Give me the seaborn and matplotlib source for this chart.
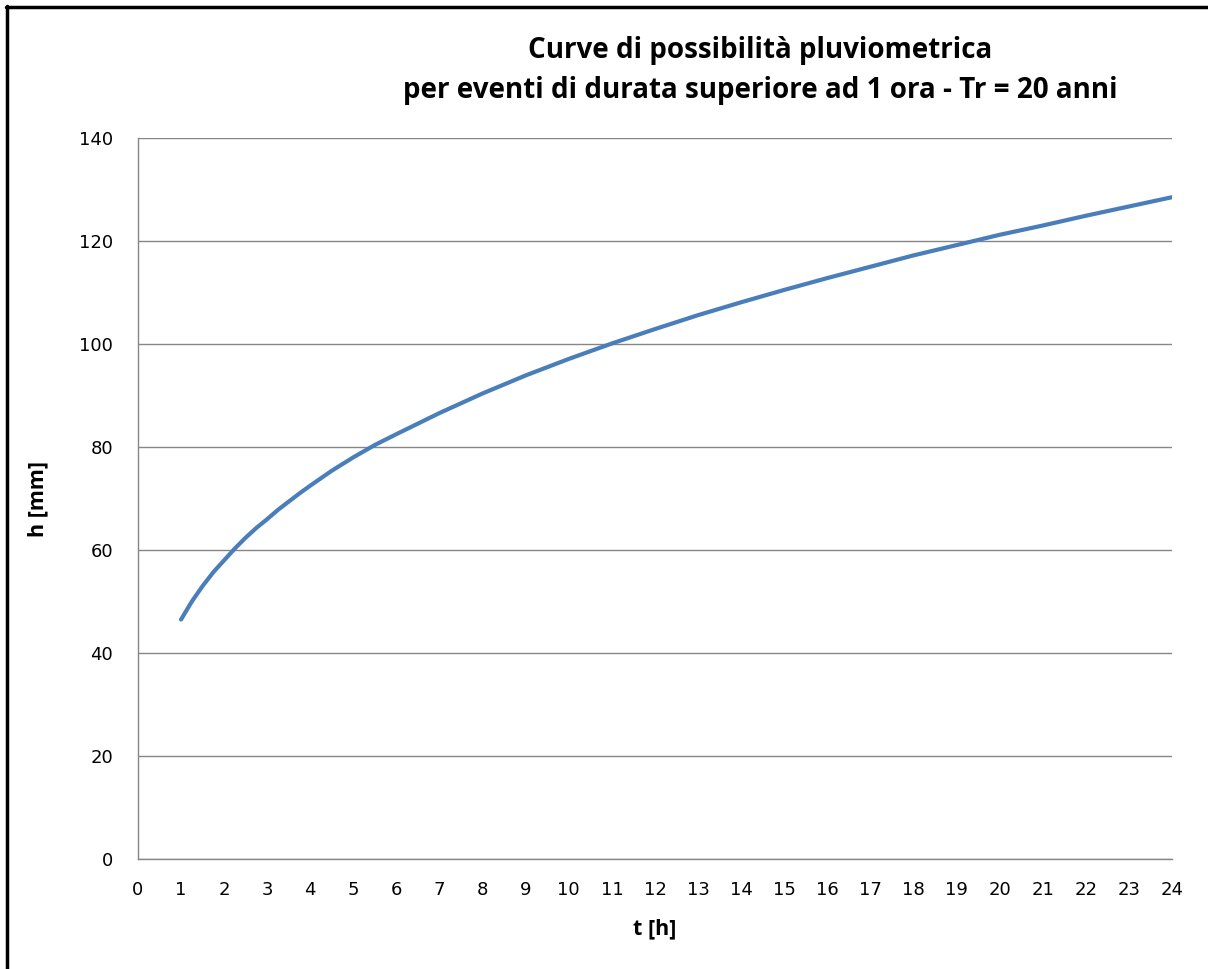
"""Curve di possibilità pluviometrica, Tr = 20 anni."""

import matplotlib.pyplot as plt
from matplotlib.lines import Line2D
import pandas as pd
import seaborn as sns

# durata [h] e altezza di pioggia [mm]
durata = [1, 1.25, 1.5, 1.75, 2, 2.25, 2.5, 2.75, 3, 3.25, 3.5, 3.75, 4, 4.5, 5, 5.5,
          6, 7, 8, 9, 10, 11, 12, 13, 14, 15, 16, 17, 18, 19, 20, 21, 22, 23, 24]
altezza = [46.5, 50.0, 53.0, 55.7, 58.0, 60.3, 62.4, 64.3, 66.0, 67.8, 69.4, 71.0, 72.5, 75.4,
           78.0, 80.4, 82.5, 86.6, 90.4, 93.9, 97.1, 100.1, 102.9, 105.6, 108.1, 110.5,
           112.8, 115.0, 117.2, 119.2, 121.2, 123.0, 124.9, 126.7, 128.5]
x_ticks = list(range(0, 25))
y_ticks = list(range(0, 141, 20))

title = "Curve di possibilità pluviometrica\nper eventi di durata superiore ad 1 ora - Tr = 20 anni"

sns.set_style("white")
plt.rcParams["font.family"] = ["DejaVu Sans"]
plt.rcParams["text.color"] = "black"
plt.rcParams["axes.labelcolor"] = "black"

df = pd.DataFrame({"t": durata, "h": altezza})

fig = plt.figure(figsize=(12.08, 9.69), dpi=100)
ax = fig.add_axes([0.1142, 0.1135, 0.856, 0.7441])

ax.yaxis.grid(True, color="#868686", linewidth=1.0)
ax.set_axisbelow(True)
sns.lineplot(data=df, x="t", y="h", ax=ax, color="#4A7EBB", linewidth=3.0,
             solid_joinstyle="round", solid_capstyle="round")

ax.set_xlim(0, 24)
ax.set_ylim(0, 140)
ax.set_xticks(x_ticks)
ax.set_yticks(y_ticks)
ax.tick_params(axis="both", direction="out", length=6, width=1, color="#868686",
               labelsize=13, labelcolor="black")
ax.tick_params(axis="x", pad=10)
ax.tick_params(axis="y", pad=12)

for side in ["top", "right"]:
    ax.spines[side].set_visible(False)
for side in ["left", "bottom"]:
    ax.spines[side].set_color("#868686")
    ax.spines[side].set_linewidth(1.0)

ax.set_xlabel("t [h]", fontsize=15.5, fontweight="bold", family="Open Sans", labelpad=14)
ax.set_ylabel("h [mm]", fontsize=15.5, fontweight="bold", family="Open Sans", labelpad=22)

fig.text(0.629, 0.963, title, ha="center", va="top", fontsize=20,
         fontweight="bold", family="Open Sans", linespacing=1.5)

# cornice del grafico (solo lati superiore e sinistro visibili)
fig.add_artist(Line2D([0.005, 1.0], [0.9923, 0.9923], transform=fig.transFigure,
                      color="black", linewidth=2.5))
fig.add_artist(Line2D([0.0062, 0.0062], [0.0, 0.994], transform=fig.transFigure,
                      color="black", linewidth=2.5))

fig.savefig("out.png", dpi=100)
plt.close(fig)
